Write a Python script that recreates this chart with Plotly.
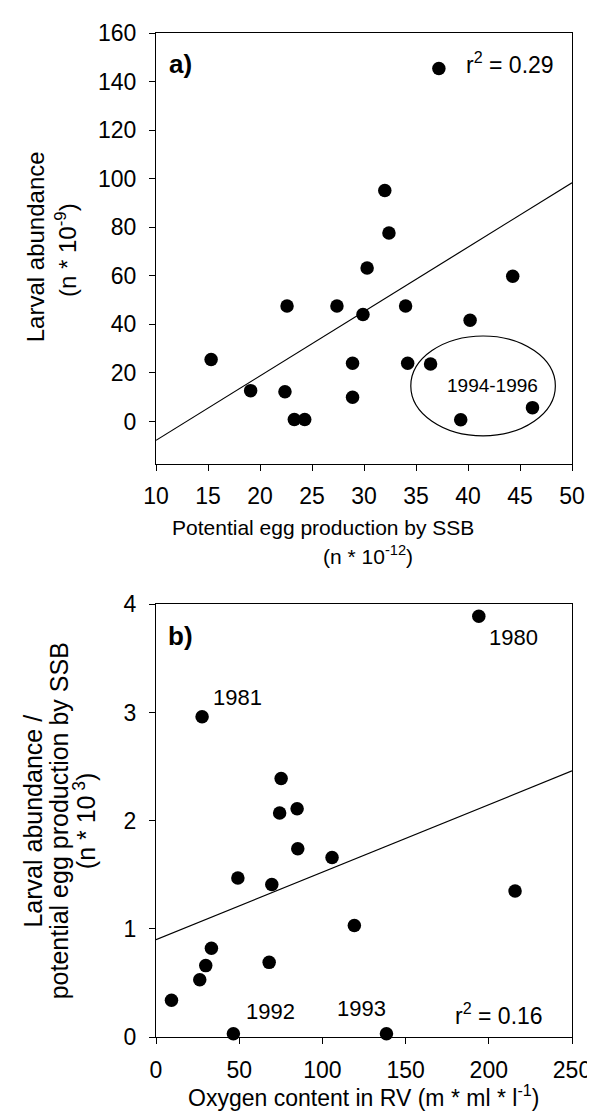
import plotly.graph_objects as go

# ---------------- data ----------------
# Panel a: potential egg production by SSB vs larval abundance
egg_prod = [37.2, 32.0, 32.4, 30.3, 44.3, 22.6, 27.4, 29.9, 34.0, 40.2, 15.3,
            28.9, 34.2, 36.4, 19.1, 22.4, 28.9, 23.3, 24.3, 39.3, 46.2]
larval_abund = [145.4, 95.1, 77.6, 63.2, 59.8, 47.6, 47.6, 44.1, 47.6, 41.7, 25.5,
                24.0, 24.0, 23.7, 12.7, 12.2, 10.0, 0.8, 0.8, 0.7, 5.7]
fit_a = {"intercept": -34.3, "slope": 2.6525}
xticks_a = [10, 15, 20, 25, 30, 35, 40, 45, 50]
yticks_a = [0, 20, 40, 60, 80, 100, 120, 140, 160]

# Panel b: oxygen content in RV vs larval abundance / potential egg production
oxygen = [194.0, 27.7, 75.2, 74.3, 84.8, 85.2, 105.8, 49.2, 69.6, 215.8, 119.2,
          33.3, 29.9, 68.0, 26.3, 9.3, 46.5, 138.5]
ratio = [3.89, 2.96, 2.39, 2.07, 2.11, 1.74, 1.66, 1.47, 1.41, 1.35, 1.03,
         0.82, 0.66, 0.69, 0.53, 0.34, 0.03, 0.03]
fit_b = {"intercept": 0.90, "slope": 0.00624}
xticks_b = [0, 50, 100, 150, 200, 250]
yticks_b = [0, 1, 2, 3, 4]

year_labels = ["1980", "1981", "1992", "1993"]
year_label_x = [214.7, 48.9, 68.7, 123.2]
year_label_y = [3.69, 3.14, 0.24, 0.26]

# ---------------- figure ----------------
FONT = "Liberation Sans, Arial, sans-serif"
W, H = 595, 1111
L, R, T, B = 148, 28, 22, 82
PW, PH = W - L - R, H - T - B


def px(x):
    return (x - L) / PW


def py(y):
    return (H - B - y) / PH


fig = go.Figure()

xa = [xticks_a[0], xticks_a[-1]]
fig.add_trace(go.Scatter(x=xa, y=[fit_a["intercept"] + fit_a["slope"] * v for v in xa],
                         mode="lines", line=dict(color="black", width=1.2),
                         xaxis="x", yaxis="y", showlegend=False, hoverinfo="skip"))
fig.add_trace(go.Scatter(x=egg_prod, y=larval_abund, mode="markers",
                         marker=dict(color="black", size=13.5), cliponaxis=False,
                         xaxis="x", yaxis="y", showlegend=False))

xb = [xticks_b[0], xticks_b[-1]]
fig.add_trace(go.Scatter(x=xb, y=[fit_b["intercept"] + fit_b["slope"] * v for v in xb],
                         mode="lines", line=dict(color="black", width=1.2),
                         xaxis="x2", yaxis="y2", showlegend=False, hoverinfo="skip"))
fig.add_trace(go.Scatter(x=oxygen, y=ratio, mode="markers",
                         marker=dict(color="black", size=13.5), cliponaxis=False,
                         xaxis="x2", yaxis="y2", showlegend=False))

axis_common = dict(showline=True, mirror=True, linecolor="black", linewidth=1,
                   ticks="outside", ticklen=6, tickcolor="black", showgrid=False,
                   zeroline=False, tickfont=dict(family=FONT, size=23, color="black"))

fig.update_layout(
    width=W, height=H,
    margin=dict(l=L, r=R, t=T, b=B),
    paper_bgcolor="white", plot_bgcolor="white",
    font=dict(family=FONT, color="black"),
    xaxis=dict(domain=[0, 1], anchor="y", range=[10, 50], tickvals=xticks_a,
               ticklabelstandoff=6, **axis_common),
    yaxis=dict(domain=[py(454), 1], anchor="x", range=[-17.4, 160], tickvals=yticks_a,
               ticklabelstandoff=8, **axis_common),
    xaxis2=dict(domain=[0, 1], anchor="y2", range=[0, 250], tickvals=xticks_b,
                ticklabelstandoff=6, **axis_common),
    yaxis2=dict(domain=[0, py(595)], anchor="x2", range=[0, 4], tickvals=yticks_b,
                ticklabelstandoff=8, **axis_common),
)

fig.add_shape(type="circle", xref="x", yref="y", x0=34.5, x1=48.4, y0=-5.9, y1=35.2,
              line=dict(color="black", width=1.2))

ann = []


def txt(text, x, y, size, xref="paper", yref="paper", angle=0, **kw):
    ann.append(dict(text=text, x=x, y=y, xref=xref, yref=yref, showarrow=False,
                    textangle=angle, xanchor="center", yanchor="middle",
                    font=dict(family=FONT, size=size, color="black"), **kw))


# axis titles
txt("Larval abundance", px(26), py(236), 24, angle=-90)
txt("(n * 10<sup>-9</sup>)", px(58), py(240), 24, angle=-90)
txt("Potential egg production by SSB", px(316), py(518), 21)
txt("(n * 10<sup>-12</sup>)", px(362), py(546), 21)

txt("Larval abundance /", px(24), py(812), 25, angle=-90)
txt("potential egg production by SSB", px(50), py(812), 25, angle=-90)
txt("(n * 10<sup> 3</sup>)", px(76), py(812), 25, angle=-90)
txt("Oxygen content in RV (m * ml * l<sup>-1</sup>)", px(357), py(1088), 23)

# panel a annotations
txt("<b>a)</b>", 12.4, 147.3, 26, xref="x", yref="y")
txt("r<sup>2</sup> = 0.29", 44.0, 147.6, 23, xref="x", yref="y")
txt("1994-1996", 42.4, 14.8, 19, xref="x", yref="y")

# panel b annotations
txt("<b>b)</b>", 14.7, 3.71, 26, xref="x2", yref="y2")
for t, xv, yv in zip(year_labels, year_label_x, year_label_y):
    txt(t, xv, yv, 22, xref="x2", yref="y2")
txt("r<sup>2</sup> = 0.16", 206, 0.21, 23, xref="x2", yref="y2")

fig.update_layout(annotations=ann)

fig.write_html("out.html")
